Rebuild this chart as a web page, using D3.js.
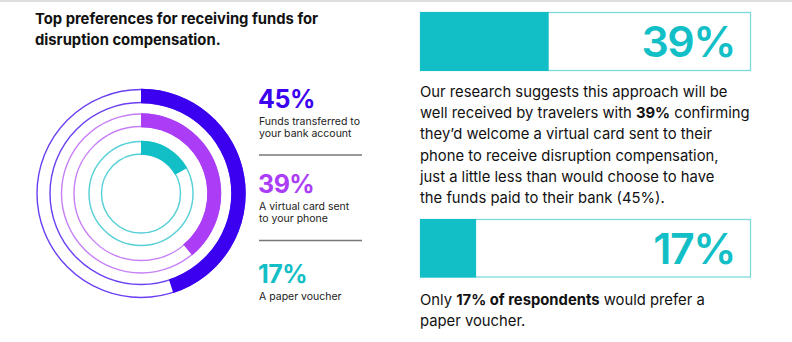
<!DOCTYPE html>
<html><head><meta charset="utf-8">
<script src="https://cdn.jsdelivr.net/npm/d3@7"></script>
<style>
html,body{margin:0;padding:0;background:#fff;}
svg{display:block;font-family:Inter,"Open Sans",sans-serif;}
</style></head>
<body>
<svg id="c" width="792" height="342"></svg>
<script>
const title = ["Top preferences for receiving funds for", "disruption compensation."];
const categories = ["Funds transferred to your bank account", "A virtual card sent to your phone", "A paper voucher"];
const labelLines = [["Funds transferred to", "your bank account"], ["A virtual card sent", "to your phone"], ["A paper voucher"]];
const values = [45, 39, 17];
const colors = ["#3b00ef", "#aa3df5", "#13bfc6"];
const outlineColors = ["#6b3ff3", "#c77ff6", "#55d0d6"];
const barValues = [39, 17];
const para1 = [
  [["Our research suggests this approach will be", false]],
  [["well received by travelers with ", false], ["39%", true], [" confirming", false]],
  [["they\u2019d welcome a virtual card sent to their", false]],
  [["phone to receive disruption compensation,", false]],
  [["just a little less than would choose to have", false]],
  [["the funds paid to their bank (45%).", false]]
];
const para2 = [
  [["Only ", false], ["17% of respondents", true], [" would prefer a", false]],
  [["paper voucher.", false]]
];

const svg = d3.select("#c");
svg.append("rect").attr("x",0).attr("y",0).attr("width",792).attr("height",2).attr("fill","#dedede");

// title
svg.append("text").attr("x",35).attr("y",24).attr("font-size",14.8).attr("font-weight",700).attr("fill","#111")
  .selectAll("tspan").data(title).join("tspan").attr("x",35).attr("dy",(d,i)=>i?21:0).text(d=>d);

// rings
const cx = 141, cy = 193.5;
const radii = [[91,104],[67,79.5],[39.5,52]];
const angle = d3.scaleLinear().domain([0,100]).range([0, 2*Math.PI]);
const g = svg.append("g").attr("transform",`translate(${cx},${cy})`);
values.forEach((v,i)=>{
  const [ri, ro] = radii[i];
  [ri, ro].forEach(r=>{
    g.append("circle").attr("r",r).attr("fill","none").attr("stroke",outlineColors[i]).attr("stroke-width",1.4);
  });
  g.append("path").attr("d", d3.arc()({innerRadius:ri-0.7, outerRadius:ro+0.7, startAngle:0, endAngle:angle(v)}))
   .attr("fill", colors[i]);
});

// legend
const lx = 259;
const pctY = [108, 193, 283];
values.forEach((v,i)=>{
  svg.append("text").attr("x",lx-1).attr("y",pctY[i]).attr("font-size",25).attr("font-weight",700)
    .attr("fill",colors[i]).attr("letter-spacing",-0.5).text(v+"%");
  svg.append("text").attr("x",lx).attr("y",pctY[i]+17).attr("font-size",10.5).attr("fill","#222")
    .selectAll("tspan").data(labelLines[i]).join("tspan").attr("x",lx).attr("dy",(d,j)=>j?12:0).text(d=>d);
});
[155, 240.5].forEach(y=>{
  svg.append("line").attr("x1",lx).attr("x2",362).attr("y1",y).attr("y2",y).attr("stroke","#777").attr("stroke-width",1.5);
});

// bars
const bx = d3.scaleLinear().domain([0,100]).range([420.5, 750.5]);
const barY = [[12.5,70.5],[219.5,277]];
barValues.forEach((v,i)=>{
  const [y0,y1] = barY[i];
  svg.append("rect").attr("x",bx(0)).attr("y",y0).attr("width",bx(100)-bx(0)).attr("height",y1-y0)
    .attr("fill","none").attr("stroke","#7ed9dd").attr("stroke-width",1.3);
  svg.append("rect").attr("x",bx(0)-0.5).attr("y",y0-0.5).attr("width",bx(v)-bx(0)).attr("height",y1-y0+1)
    .attr("fill","#13bfc6");
  svg.append("text").attr("x",735).attr("y",y1-13.5).attr("text-anchor","end").attr("font-size",43)
    .attr("font-weight",600).attr("fill","#13bfc6").attr("letter-spacing",-1.5).text(v+"%");
});

function para(lines, x, y0, lh){
  lines.forEach((ln,i)=>{
    const t = svg.append("text").attr("x",x).attr("y",y0+i*lh).attr("font-size",14.8).attr("fill","#111");
    ln.forEach(([s,b])=>t.append("tspan").attr("font-weight",b?700:400).text(s));
  });
}
para(para1, 420, 97, 21.2);
para(para2, 420, 305, 20.5);
</script>
</body></html>
